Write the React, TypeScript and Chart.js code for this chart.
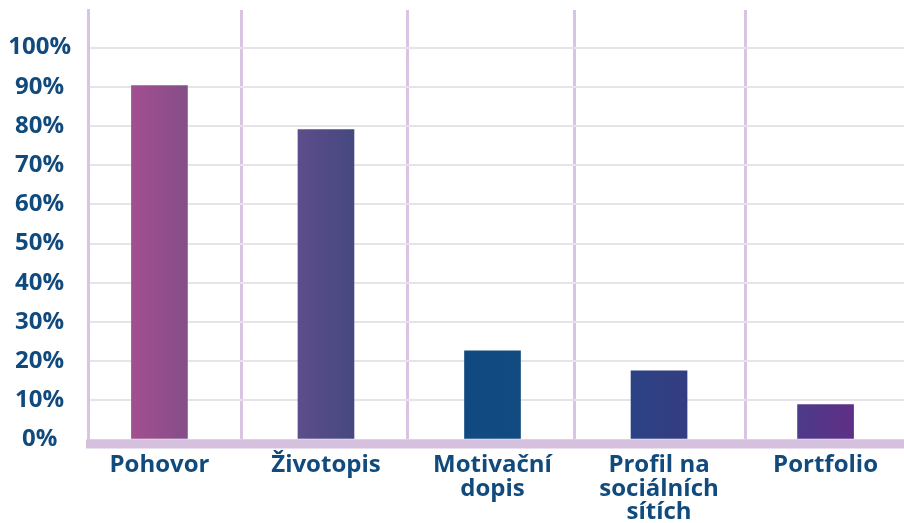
import React, { useEffect, useRef } from 'react';
import { Chart, registerables } from 'chart.js';

Chart.register(...registerables);

const categories: string[][] = [
  ['Pohovor'],
  ['Životopis'],
  ['Motivační', 'dopis'],
  ['Profil na', 'sociálních', 'sítích'],
  ['Portfolio'],
];
const values = [90.3, 79.1, 22.6, 17.5, 8.9];
const yTickValues = [0, 10, 20, 30, 40, 50, 60, 70, 80, 90, 100];
const dividerValues = [0.49, 1.49, 2.49, 3.52];
const barLeftColors = ['#a24f8f', '#5d4d8b', '#104a80', '#2a4284', '#4d3a8a'];
const barRightColors = ['#854e89', '#46487f', '#124b80', '#353d81', '#5f2f85'];

const FONT = "'Open Sans', sans-serif";
const TEXT = '#114a7d';
const PURPLE_LINE = '#d9c5e3';
const BAND = '#d5c0dd';
const GRID = '#e7e3e9';
const BAR_W = 56;

const bandPlugin = {
  id: 'band',
  afterDatasetsDraw(chart: any) {
    const { ctx, chartArea } = chart;
    ctx.save();
    ctx.fillStyle = BAND;
    ctx.fillRect(chartArea.left - 2, chartArea.bottom, chartArea.right - chartArea.left + 2, 9);
    ctx.restore();
  },
};

export default function App() {
  const ref = useRef<HTMLCanvasElement | null>(null);
  useEffect(() => {
    if (!ref.current) return;
    const chart = new Chart(ref.current, {
      type: 'bar',
      data: {
        datasets: [
          {
            data: values.map((v, i) => ({ x: i, y: v })),
            barThickness: BAR_W,
            backgroundColor: (c: any) => {
              const ch = c.chart;
              const xs = ch.scales.x;
              if (!ch.chartArea || !xs || c.dataIndex === undefined) return barLeftColors[0];
              const i = c.dataIndex;
              const cx = xs.getPixelForValue(i);
              const g = ch.ctx.createLinearGradient(cx - BAR_W / 2, 0, cx + BAR_W / 2, 0);
              g.addColorStop(0, barLeftColors[i]);
              g.addColorStop(1, barRightColors[i]);
              return g;
            },
            borderWidth: 0,
          } as any,
        ],
      },
      options: {
        animation: false,
        responsive: false,
        maintainAspectRatio: false,
        layout: { padding: { left: 0, top: 10, right: 0, bottom: 0 } },
        plugins: { legend: { display: false }, tooltip: { enabled: false } },
        scales: {
          x: {
            type: 'linear',
            offset: false,
            min: -0.429,
            max: 4.471,
            afterBuildTicks: (s: any) => {
              s.ticks = categories.map((_, i) => ({ value: i }));
            },
            afterFit: (s: any) => {
              s.height = 83.5;
            },
            grid: { display: false, drawTicks: false, offset: false },
            border: { display: false },
            ticks: {
              autoSkip: false,
              maxRotation: 0,
              padding: 14,
              color: TEXT,
              font: { family: FONT, size: 24, weight: 'bold', lineHeight: 0.98 },
              callback: (v: any) => categories[Math.round(Number(v))],
            },
          },
          xg: {
            type: 'linear',
            position: 'bottom',
            offset: false,
            min: -0.429,
            max: 4.471,
            afterBuildTicks: (s: any) => {
              s.ticks = dividerValues.map((v) => ({ value: v }));
            },
            afterFit: (s: any) => {
              s.height = 0;
            },
            grid: { color: PURPLE_LINE, lineWidth: 3, drawTicks: false, offset: false },
            border: { display: false },
            ticks: { display: false },
          },
          y: {
            min: 0,
            max: 109.6,
            afterBuildTicks: (s: any) => {
              s.ticks = yTickValues.map((v) => ({ value: v }));
            },
            afterFit: (s: any) => {
              s.width = 88;
              s.paddingTop = 0;
              s.paddingBottom = 0;
            },
            grid: { color: GRID, lineWidth: 2, drawTicks: false },
            border: { display: true, color: PURPLE_LINE, width: 3 },
            ticks: {
              crossAlign: 'center',
              padding: 17,
              color: TEXT,
              font: { family: FONT, size: 24, weight: 'bold', lineHeight: 0.98 },
              callback: (v: any) => v + '%',
            },
          },
        },
      } as any,
      plugins: [bandPlugin],
    });
    return () => chart.destroy();
  }, []);
  return (
    <div style={{ position: 'absolute', left: 0, top: 0, width: 904, height: 523 }}>
      <canvas ref={ref} width={904} height={523} style={{ width: 904, height: 523 }} />
    </div>
  );
}
